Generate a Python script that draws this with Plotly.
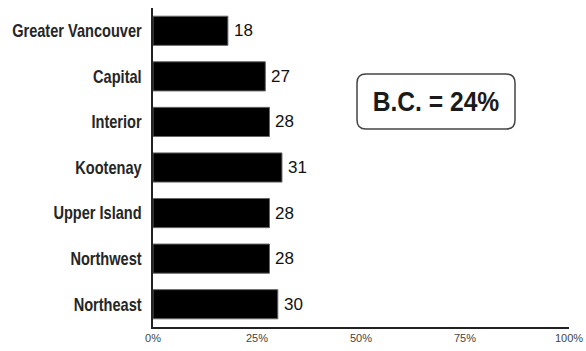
import plotly.graph_objects as go

regions = ["Greater Vancouver", "Capital", "Interior", "Kootenay",
           "Upper Island", "Northwest", "Northeast"]
values = [18, 27, 28, 31, 28, 28, 30]
x_ticks = [0, 25, 50, 75, 100]
x_tick_labels = ["0%", "25%", "50%", "75%", "100%"]
summary_text = "B.C. = 24%"

W, H = 586, 351
L, R, T, B = 153, 17, 8, 24
pw, ph = W - L - R, H - T - B

def px_x(px):
    return (px - L) / pw

def px_y(py):
    return (H - B - py) / ph

fig = go.Figure()
fig.add_trace(go.Bar(
    x=values, y=regions, orientation="h",
    marker=dict(color="#000000", line=dict(color="#666666", width=1)),
    width=0.64, hoverinfo="skip", showlegend=False,
))

for v, r in zip(values, regions):
    fig.add_annotation(x=v, y=r, xref="x", yref="y", text=str(v),
                       showarrow=False, xanchor="left", xshift=4,
                       font=dict(family="Liberation Sans", size=17, color="#111111"))

# rounded box
x0, x1, y0, y1, rad = 357, 515, 74, 129, 9
path = (f"M {px_x(x0+rad)},{px_y(y0)} L {px_x(x1-rad)},{px_y(y0)} "
        f"Q {px_x(x1)},{px_y(y0)} {px_x(x1)},{px_y(y0+rad)} "
        f"L {px_x(x1)},{px_y(y1-rad)} Q {px_x(x1)},{px_y(y1)} {px_x(x1-rad)},{px_y(y1)} "
        f"L {px_x(x0+rad)},{px_y(y1)} Q {px_x(x0)},{px_y(y1)} {px_x(x0)},{px_y(y1-rad)} "
        f"L {px_x(x0)},{px_y(y0+rad)} Q {px_x(x0)},{px_y(y0)} {px_x(x0+rad)},{px_y(y0)} Z")
fig.add_shape(type="path", path=path, xref="paper", yref="paper",
              line=dict(color="#444444", width=1.5), fillcolor="white")
fig.add_annotation(x=px_x((x0 + x1) / 2), y=px_y((y0 + y1) / 2), xref="paper", yref="paper",
                   text=f"<b>{summary_text}</b>", showarrow=False,
                   xanchor="center", yanchor="middle",
                   font=dict(family="Liberation Sans", size=28, color="#1a1a1a"))

fig.update_layout(
    width=W, height=H,
    margin=dict(l=L, r=R, t=T, b=B, pad=0),
    paper_bgcolor="white", plot_bgcolor="white",
)
fig.update_xaxes(range=[0, 100], tickvals=x_ticks, ticktext=x_tick_labels,
                 showgrid=False, zeroline=False, showline=True, automargin=False,
                 linecolor="#222222", linewidth=1.5, ticks="",
                 tickfont=dict(family="Liberation Sans", size=11, color="#444444"))
fig.update_yaxes(categoryorder="array", categoryarray=regions,
                 range=[6.5, -0.5], showgrid=False, zeroline=False, automargin=False,
                 showline=True, linecolor="#222222", linewidth=1.5, ticks="",
                 ticklabelstandoff=6,
                 tickfont=dict(family="Liberation Sans", size=18,
                               color="#262626", weight="bold"))

post = """
(function(){
  document.body.style.margin='0';
  var gd = document.getElementById('{plot_id}');
  function squeeze(el, s){
    var x = parseFloat(el.getAttribute('x')) || 0;
    var tr = el.getAttribute('transform') || '';
    el.setAttribute('transform', tr + ' translate(' + x + ',0) scale(' + s + ',1) translate(' + (-x) + ',0)');
  }
  gd.querySelectorAll('.ytick text').forEach(function(t){ squeeze(t, 0.81); });
  gd.querySelectorAll('.annotation-text').forEach(function(t){
    if (t.textContent.indexOf('B.C.') >= 0) { squeeze(t, 0.88); }
  });
})();
"""

fig.write_html("out.html", post_script=post, config={"displayModeBar": False})
